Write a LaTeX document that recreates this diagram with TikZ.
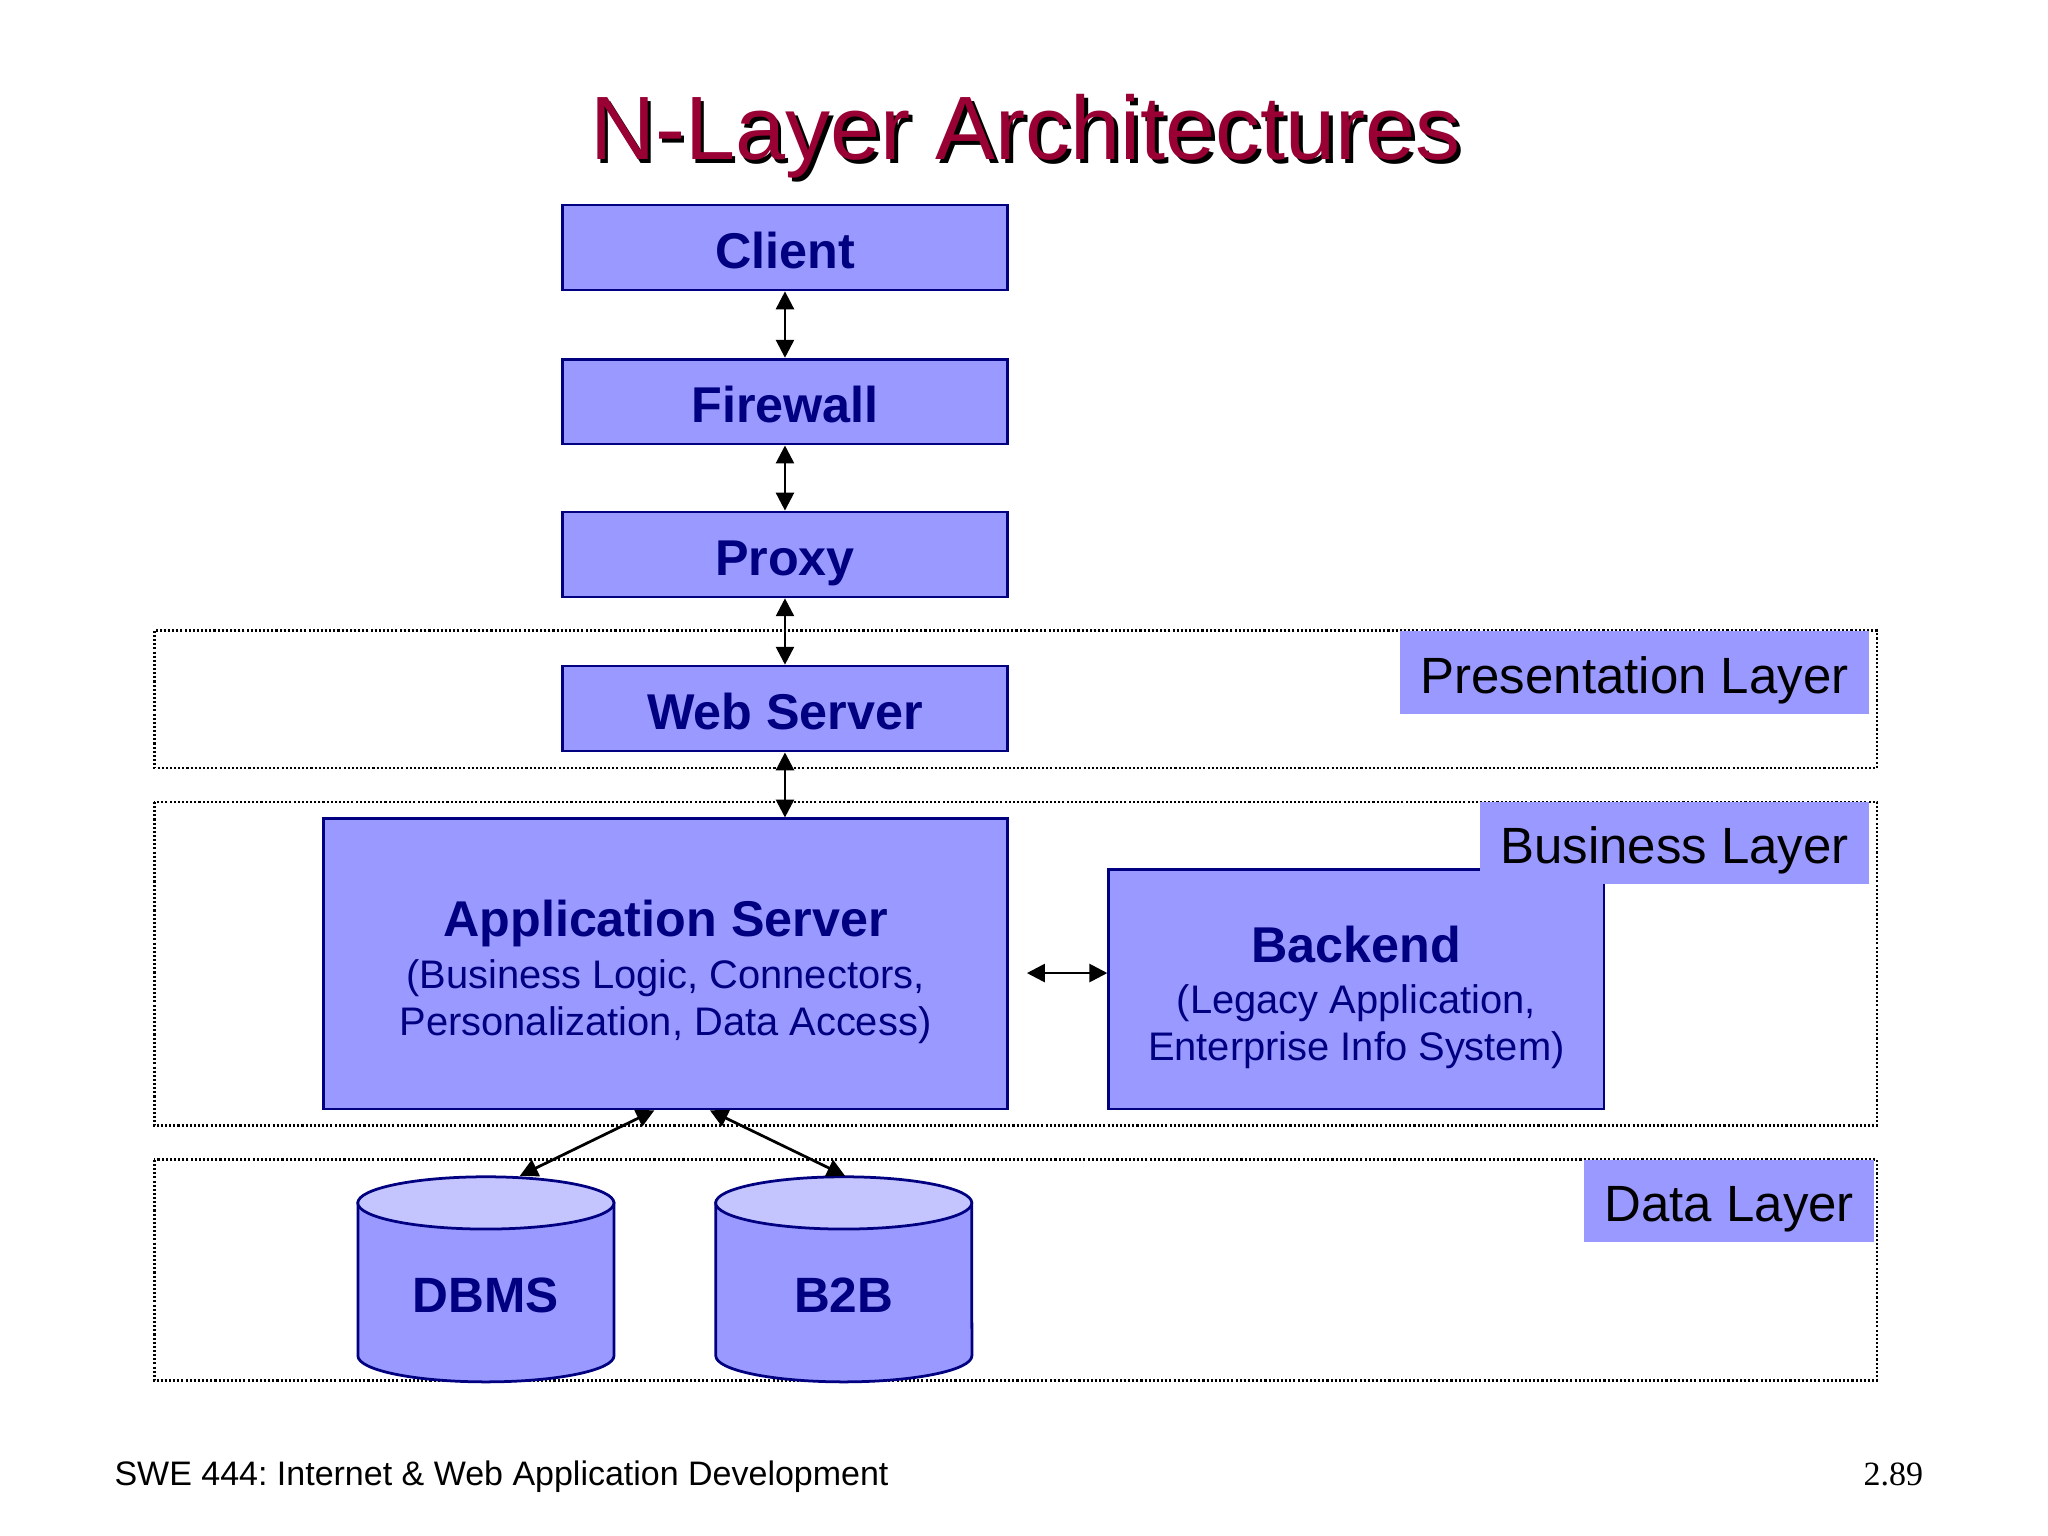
\documentclass[tikz,border=0pt]{standalone}
\usepackage{fontspec}
\setmainfont{Liberation Sans}
\newfontfamily\serifft{Liberation Serif}
\usetikzlibrary{arrows.meta,calc}
\definecolor{boxblue}{HTML}{9999FF}
\definecolor{topblue}{HTML}{C4C4FF}
\definecolor{navy}{HTML}{000080}
\definecolor{titlered}{HTML}{990033}
\frenchspacing
\begin{document}
\begin{tikzpicture}[x=0.01cm,y=-0.01cm,
 box/.style={draw=navy,fill=boxblue,line width=0.6pt,text=navy,inner sep=0pt,
   font=\fontsize{10.95pt}{13pt}\selectfont\bfseries,minimum width=3.4cm,minimum height=0.65cm,
   text height=9.3pt,text depth=0pt},
 bigbox/.style={draw=navy,fill=boxblue,line width=0.6pt,text=navy,inner sep=0pt,align=center,
   font=\fontsize{8.68pt}{10.24pt}\selectfont},
 lab/.style={fill=boxblue,inner sep=0pt,text=black,font=\fontsize{11.1pt}{13pt}\selectfont,minimum height=0.63cm,
   text height=9.1pt,text depth=0pt},
 layer/.style={draw=black,line width=0.6pt,dash pattern=on 0.45pt off 0.45pt},
 dar/.style={{Triangle[length=3.9pt,width=3.9pt]}-{Triangle[length=3.9pt,width=3.9pt]},line width=0.6pt,draw=black},
 cylbody/.style={draw=navy,fill=boxblue,line width=0.6pt},
 cyltop/.style={draw=navy,fill=topblue,line width=0.6pt},
 cyltext/.style={inner sep=0pt,text=navy,font=\fontsize{10.8pt}{13pt}\selectfont\bfseries,minimum width=1.96cm,minimum height=1.82cm},
 titlefont/.style={inner sep=0pt,font=\fontsize{19.6pt}{23pt}\selectfont},
 foot/.style={inner sep=0pt,font=\fontsize{7.4pt}{9pt}\selectfont}
]
\useasboundingbox[fill=white] (0,0) rectangle (1568,1176);

% title
\node[titlefont,text=black,anchor=base] (titleshadow) at (788,125) {N-Layer Architectures};
\node[titlefont,text=titlered,anchor=base] (title) at (785,122) {N-Layer Architectures};

% layers
\draw[layer] (118,483) rectangle (1437,588);
\draw[layer] (118,614) rectangle (1437,862);
\draw[layer] (118,888) rectangle (1437,1057);

% boxes
\node[box] (client) at (601,189.5) {Client};
\node[box] (firewall) at (601,307.5) {Firewall};
\node[box] (proxy) at (601,424.5) {Proxy};
\node[box] (web) at (601,542.5) {Web Server};

\node[bigbox,minimum width=5.23cm,minimum height=2.22cm] (app) at (509.5,738)
 {\rule{0pt}{11.4pt}{\fontsize{10.95pt}{10.24pt}\selectfont\bfseries Application Server}\\[0.9pt]
  (Business Logic, Connectors,\\ Personalization, Data Access)};
\node[bigbox,minimum width=3.79cm,minimum height=1.83cm] (backend) at (1038.5,757.5)
 {\rule{0pt}{11.4pt}{\fontsize{10.95pt}{10.24pt}\selectfont\bfseries Backend}\\[0.9pt]
  (Legacy Application,\\ Enterprise Info System)};

% labels
\node[lab,minimum width=3.59cm] (preslab) at (1251.5,515) {Presentation Layer};
\node[lab,minimum width=2.98cm] (buslab) at (1282,645.5) {Business Layer};
\node[lab,minimum width=2.22cm] (datalab) at (1324,919.5) {Data Layer};

% cylinders
\draw[cylbody] (274,921) -- (274,1038) arc[start angle=180,end angle=360,x radius=0.98cm,y radius=0.2cm] -- (470,921) -- cycle;
\draw[cyltop] (372,921) ellipse[x radius=0.98cm,y radius=0.2cm];
\draw[cylbody] (548,921) -- (548,1038) arc[start angle=180,end angle=360,x radius=0.98cm,y radius=0.2cm] -- (744,921) -- cycle;
\draw[cyltop] (646,921) ellipse[x radius=0.98cm,y radius=0.2cm];
\node[cyltext] (dbms) at (372,992) {DBMS};
\node[cyltext] (b2b) at (646,992) {B2B};

% connectors
\draw[dar] (client.south) -- (firewall.north);
\draw[dar] (firewall.south) -- (proxy.north);
\draw[dar] (proxy.south) -- (web.north);
\draw[dar] (web.south) -- (web.south |- app.north);
\draw[dar] ([shift={(0.14cm,-0.07cm)}]app.east) coordinate (h1) -- (h1 -| backend.west);
\draw[dar] ([xshift=-0.085cm]app.south) -- ([xshift=0.26cm]dbms.north);
\draw[dar] ([xshift=0.34cm]app.south) -- ([xshift=0.01cm]b2b.north);

% footer
\node[foot,anchor=base west] (course) at (87,1137) {SWE 444: Internet \& Web Application Development};
\node[foot,anchor=base east,font=\fontsize{7.4pt}{9pt}\selectfont\serifft] (pagenum) at (1473,1137) {2.89};
\end{tikzpicture}
\end{document}
